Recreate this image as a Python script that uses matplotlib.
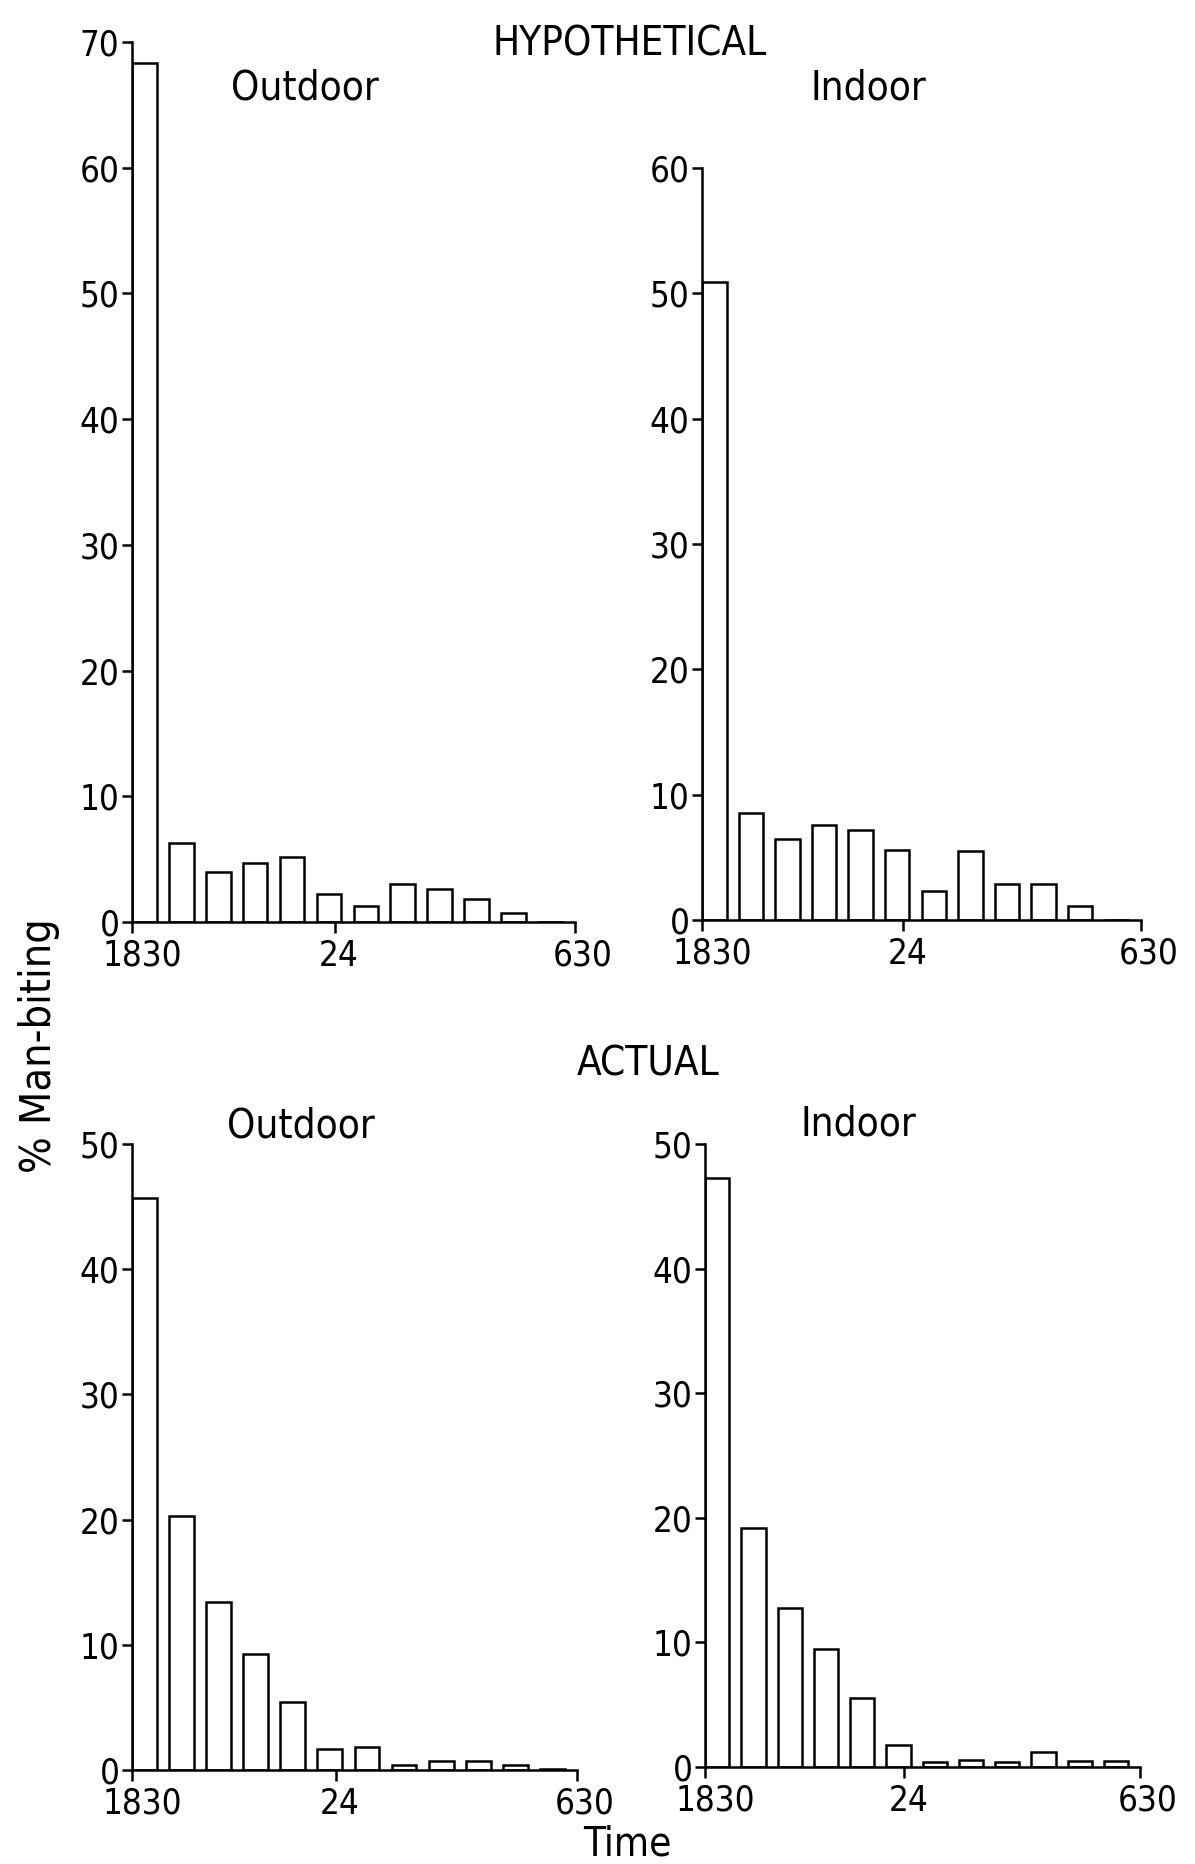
import numpy as np
import matplotlib
matplotlib.use("Agg")
import matplotlib.pyplot as plt
from matplotlib.transforms import ScaledTranslation

# ---- data ----
hour_slots = np.arange(12)            # hourly intervals from 18:30 to 06:30
tick_positions = [0, 5.5, 12]
tick_labels = ["1830", "24", "630"]

hyp_outdoor = [68.3, 6.3, 4.0, 4.7, 5.2, 2.2, 1.3, 3.0, 2.6, 1.8, 0.7, 0.0]
hyp_indoor = [50.9, 8.5, 6.5, 7.6, 7.2, 5.6, 2.3, 5.5, 2.9, 2.9, 1.1, 0.0]
act_outdoor = [45.7, 20.3, 13.4, 9.3, 5.4, 1.7, 1.8, 0.4, 0.7, 0.7, 0.4, 0.1]
act_indoor = [47.3, 19.2, 12.8, 9.5, 5.5, 1.8, 0.4, 0.6, 0.4, 1.2, 0.5, 0.5]

plt.rcParams['font.family'] = ['DejaVu Sans']
plt.rcParams['font.stretch'] = 'condensed'
FS = 25
TFS = 29
LW = 1.8

W, H = 1195, 1864
fig = plt.figure(figsize=(W / 100, H / 100), dpi=100)


def box(l, t, r, b):
    return [l / W, 1 - b / H, (r - l) / W, (b - t) / H]


panels = [
    (box(132, 42, 575, 922), hyp_outdoor, 70, "Outdoor"),
    (box(702, 168, 1141, 920), hyp_indoor, 60, "Indoor"),
    (box(132, 1144, 577, 1770), act_outdoor, 50, "Outdoor"),
    (box(705, 1144, 1140, 1767), act_indoor, 50, "Indoor"),
]

for rect, vals, ymax, name in panels:
    ax = fig.add_axes(rect)
    ax.bar(hour_slots, vals, width=0.67, align='edge', facecolor='white',
           edgecolor='black', linewidth=LW, zorder=2)
    ax.set_xlim(0, 12)
    ax.set_ylim(0, ymax)
    ax.spines['top'].set_visible(False)
    ax.spines['right'].set_visible(False)
    for s in ('left', 'bottom'):
        ax.spines[s].set_linewidth(LW)
    ax.set_yticks(np.arange(0, ymax + 1, 10))
    ax.set_xticks(tick_positions)
    ax.set_xticklabels(tick_labels)
    ax.tick_params(axis='both', direction='out', length=7, width=LW,
                   labelsize=FS, pad=2)
    ax.tick_params(axis='x', length=8, pad=4)
    labs = ax.get_xticklabels()
    shifts = [10, 4, 8]
    for lab, dx in zip(labs, shifts):
        lab.set_transform(lab.get_transform() +
                          ScaledTranslation(dx / 100, 0, fig.dpi_scale_trans))
    ax.patch.set_visible(False)

# titles
fig.text(630 / W, 1 - 44 / H, "HYPOTHETICAL", ha='center', va='center', fontsize=TFS)
fig.text(305 / W, 1 - 89 / H, "Outdoor", ha='center', va='center', fontsize=TFS)
fig.text(868 / W, 1 - 89 / H, "Indoor", ha='center', va='center', fontsize=TFS)
fig.text(648 / W, 1 - 1064 / H, "ACTUAL", ha='center', va='center', fontsize=TFS)
fig.text(301 / W, 1 - 1127 / H, "Outdoor", ha='center', va='center', fontsize=TFS)
fig.text(858 / W, 1 - 1125 / H, "Indoor", ha='center', va='center', fontsize=TFS)
fig.text(39 / W, 1 - 1046 / H, "% Man-biting", ha='center', va='center',
         rotation=90, fontsize=TFS + 2)
fig.text(627 / W, 1 - 1845 / H, "Time", ha='center', va='center', fontsize=TFS)

fig.savefig("out.png", dpi=100, facecolor='white')
